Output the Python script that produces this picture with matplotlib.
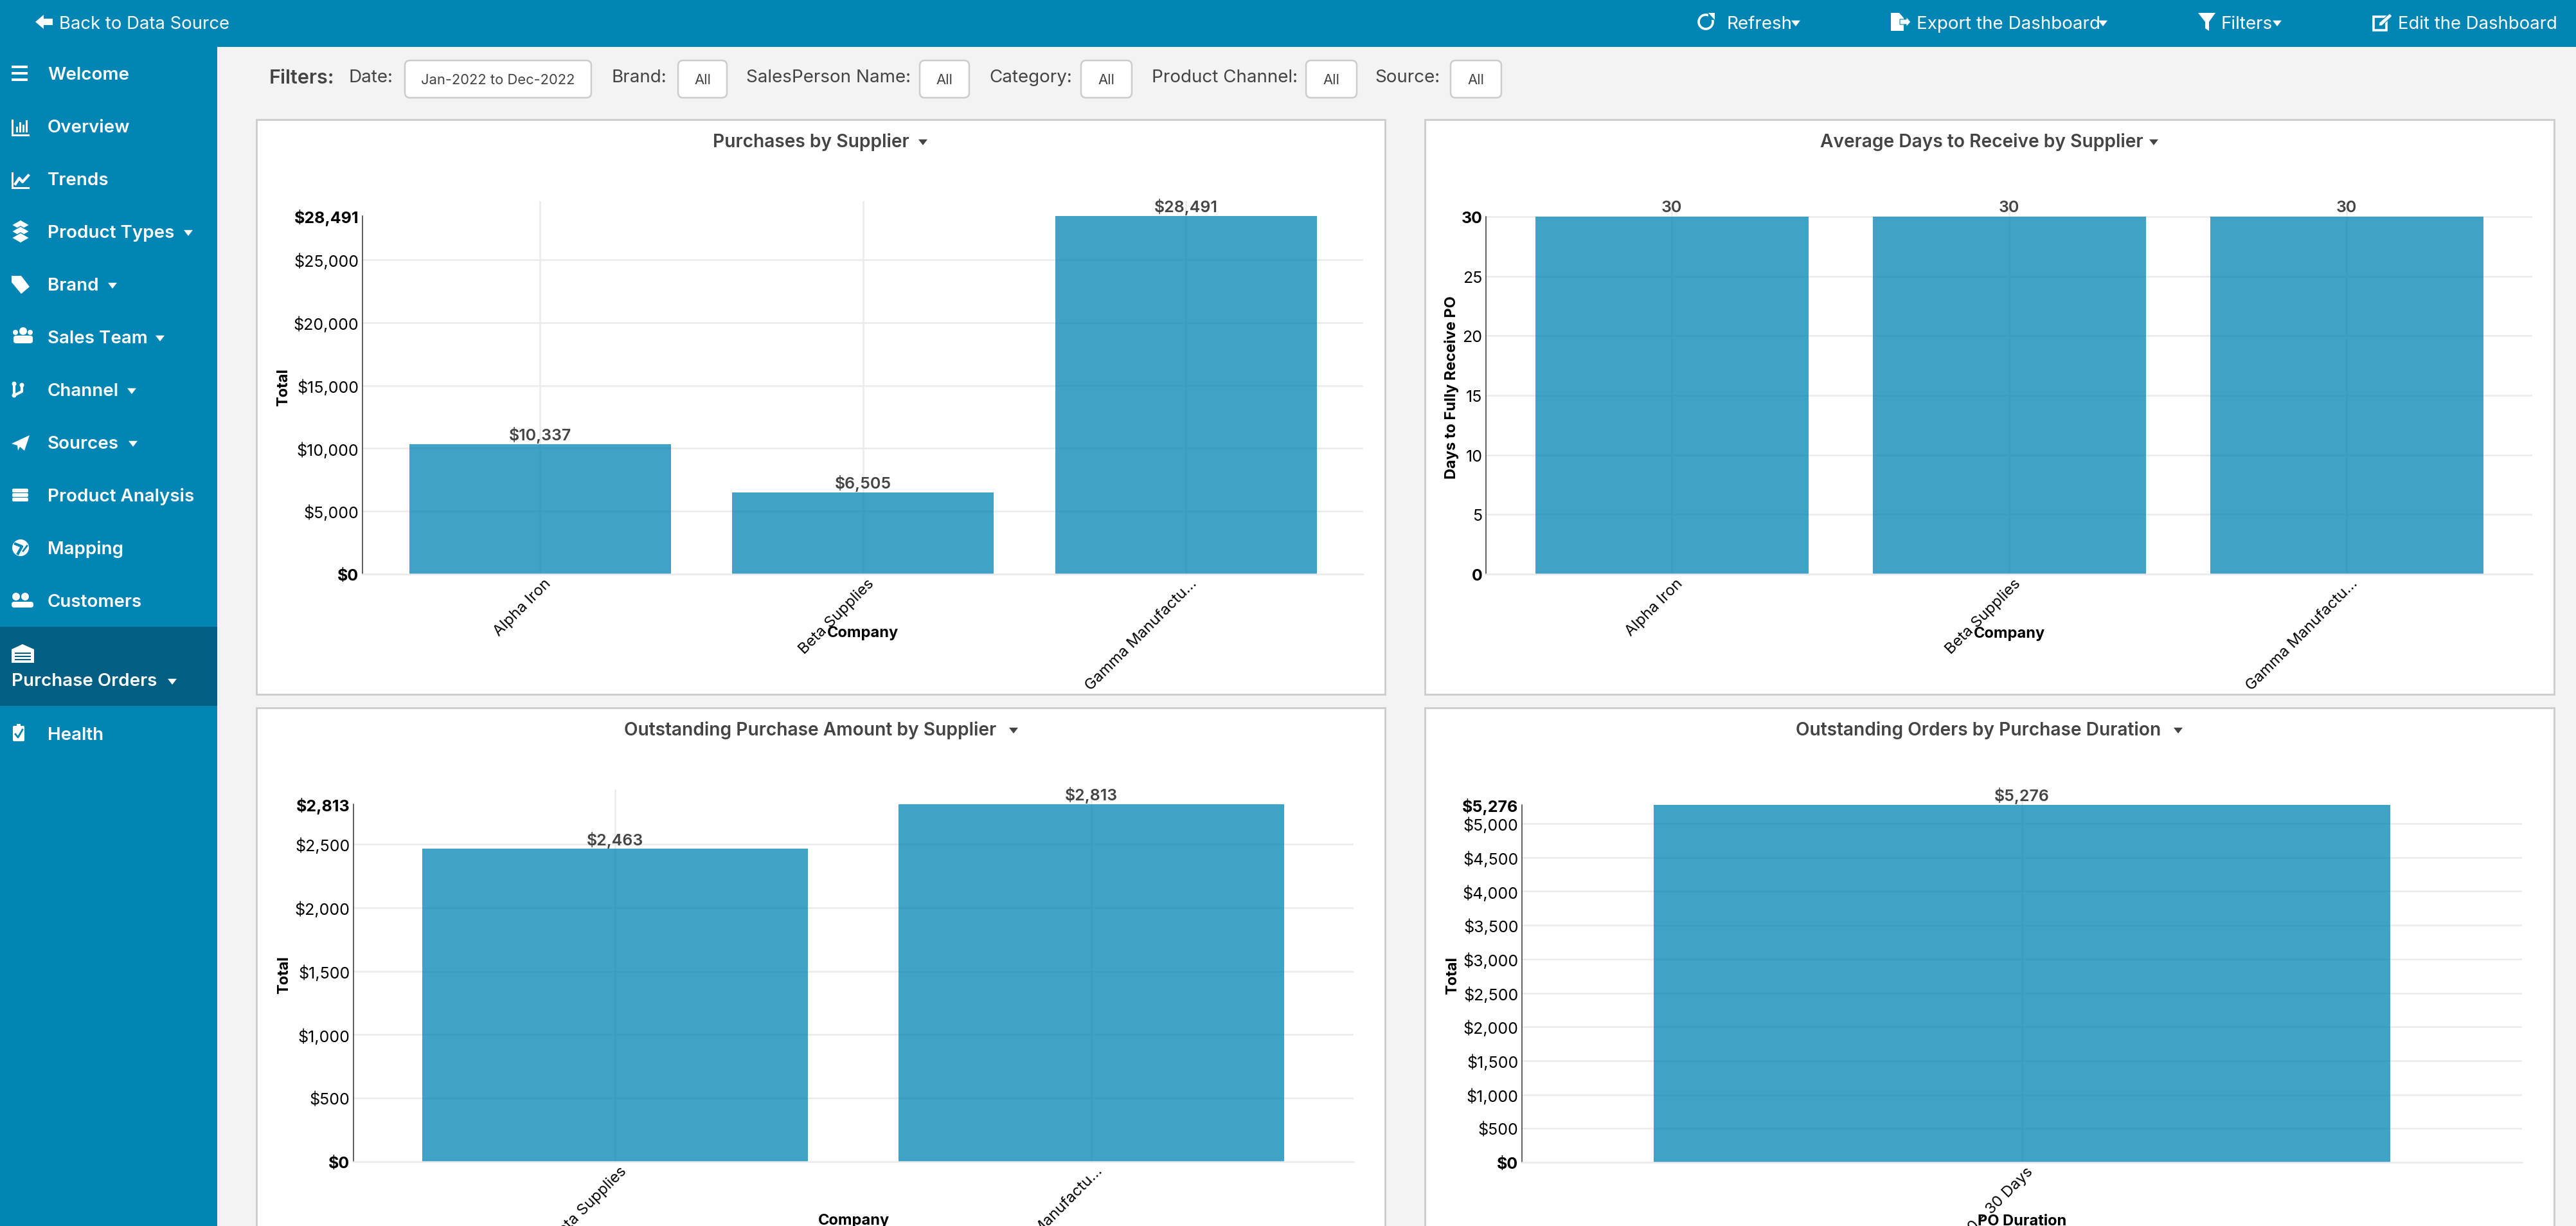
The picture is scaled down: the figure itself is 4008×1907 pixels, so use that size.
import matplotlib
matplotlib.use("Agg")
import matplotlib.pyplot as plt
from matplotlib.patches import Rectangle, FancyBboxPatch, Polygon, Circle
from matplotlib.transforms import ScaledTranslation

W, H, DPI = 4008, 1908, 100
plt.rcParams['font.family'] = ['Inter', 'DejaVu Sans']

BLUE = '#0085B5'; DARK = '#005F82'; BG = '#F3F3F3'; BORDER = '#CCCCCC'
GRID = '#EBEBEB'; BAR = '#0B88B8'; TXT = '#444444'

# ---------- data ----------
p1_cats = ['Alpha Iron', 'Beta Supplies', 'Gamma Manufactu...']
p1_vals = [10337, 6505, 28491]
p1_ticks = [0, 5000, 10000, 15000, 20000, 25000]
p2_cats = ['Alpha Iron', 'Beta Supplies', 'Gamma Manufactu...']
p2_vals = [30, 30, 30]
p2_ticks = [0, 5, 10, 15, 20, 25, 30]
p3_cats = ['Beta Supplies', 'Gamma Manufactu...']
p3_vals = [2463, 2813]
p3_ticks = [0, 500, 1000, 1500, 2000, 2500]
p4_cats = ['0 - 30 Days']
p4_vals = [5276]
p4_ticks = [0, 500, 1000, 1500, 2000, 2500, 3000, 3500, 4000, 4500, 5000]

nav_items = ['Welcome', 'Overview', 'Trends', 'Product Types', 'Brand', 'Sales Team',
             'Channel', 'Sources', 'Product Analysis', 'Mapping', 'Customers']
nav_y = [115, 197, 279, 361, 443, 525, 607, 689, 771, 853, 935]
nav_carets = {'Product Types', 'Brand', 'Sales Team', 'Channel', 'Sources'}

fig = plt.figure(figsize=(W / DPI, H / DPI), dpi=DPI, facecolor=BG)
bg = fig.add_axes([0, 0, 1, 1], zorder=0)
bg.set_xlim(0, W); bg.set_ylim(H, 0); bg.axis('off')


def rect(x0, y0, x1, y1, fc, ec='none', lw=0):
    bg.add_patch(Rectangle((x0, y0), x1 - x0, y1 - y0, fc=fc, ec=ec, lw=lw))


def T(x, y, s, size=17, weight='normal', color='white', ha='left', va='center', **kw):
    return bg.text(x, y, s, fontsize=size, fontweight=weight, color=color, ha=ha, va=va, **kw)


def caret(x, y, s=8, color='white'):
    bg.add_patch(Polygon([(x - s, y - s * .6), (x + s, y - s * .6), (x, y + s * .7)], fc=color, ec='none'))


# ---------- chrome ----------
rect(0, 0, W, 74, BLUE)
rect(0, 0, 338, H, BLUE)
rect(0, 976, 338, 1099, DARK)

# top bar
bg.add_patch(Polygon([(55, 35), (68, 24), (68, 30), (82, 30), (82, 40), (68, 40), (68, 46)], fc='white'))
T(92, 38, 'Back to Data Source', 19.8)
for x, s, cx in [(2687, 'Refresh', 2794), (2982, 'Export the Dashboard', 3272), (3456, 'Filters', 3543)]:
    T(x, 38, s, 20)
    caret(cx, 37, 7)
T(3731, 38, 'Edit the Dashboard', 19.8)
# top-bar icons
bg.add_patch(Circle((2654, 35), 11, fc='none', ec='white', lw=2.6))
bg.add_patch(Rectangle((2658, 20), 9, 12, fc=BLUE, ec='none'))
bg.add_patch(Polygon([(2658, 21), (2668, 21), (2668, 32)], fc='white'))
bg.add_patch(Polygon([(2942, 21), (2955, 21), (2962, 29), (2962, 49), (2942, 49)], fc='white'))
bg.add_patch(Polygon([(2956, 31), (2966, 31), (2966, 27), (2973, 35), (2966, 43), (2966, 39), (2956, 39)], fc='white', ec=BLUE, lw=.8))
bg.add_patch(Polygon([(3420, 21), (3447, 21), (3437, 35), (3437, 49), (3431, 45), (3431, 35)], fc='white'))
bg.add_patch(Rectangle((3693, 27), 20, 21, fc='none', ec='white', lw=2.6))
bg.add_patch(Polygon([(3702, 36), (3718, 22), (3722, 26), (3706, 41), (3701, 41)], fc='white', ec=BLUE, lw=.8))

# side navigation
for name, y in zip(nav_items, nav_y):
    T(74, y + 2, name, 20, 'semibold')
    if name in nav_carets:
        wid = {'Product Types': 293, 'Brand': 175, 'Sales Team': 249, 'Channel': 205, 'Sources': 207}[name]
        caret(wid, y + 2, 7)
T(18, 1060, 'Purchase Orders', 20, 'semibold')
caret(268, 1061, 7)
T(74, 1144, 'Health', 20, 'semibold')

# nav icons
for dy in (-10, 0, 10):
    rect(18, 115 + dy - 2, 43, 115 + dy + 2, 'white')
rect(18, 210, 46, 213, 'white'); rect(18, 187, 21, 213, 'white')
for x, t in zip((25, 30, 35, 40), (198, 191, 195, 188)):
    rect(x, t, x + 3, 207, 'white')
rect(18, 292, 46, 295, 'white'); rect(18, 269, 21, 295, 'white')
bg.plot([24, 30, 35, 44], [287, 278, 284, 274], color='white', lw=3)
for off in (-10, 0, 10):
    bg.add_patch(Polygon([(18, 361 + off), (32, 353 + off), (46, 361 + off), (32, 369 + off)], fc='white', ec=BLUE, lw=1))
bg.add_patch(Polygon([(18, 430), (33, 430), (46, 447), (33, 458), (18, 440)], fc='white'))
for cx, cy, r in [(24, 518, 4), (36, 516, 6), (47, 518, 4)]:
    bg.add_patch(Circle((cx, cy), r, fc='white'))
bg.add_patch(FancyBboxPatch((22, 524), 28, 10, boxstyle='round,pad=1,rounding_size=4', fc='white', ec='none'))
bg.plot([22, 22], [598, 616], color='white', lw=3); bg.plot([22, 34, 34], [616, 610, 600], color='white', lw=3)
for cx, cy in [(22, 598), (22, 616), (34, 600)]:
    bg.add_patch(Circle((cx, cy), 3.5, fc='white'))
bg.add_patch(Polygon([(18, 691), (46, 678), (38, 702), (31, 696), (28, 702), (27, 694)], fc='white'))
for yy in (764, 771, 778):
    bg.add_patch(FancyBboxPatch((19, yy - 3), 25, 6, boxstyle='round,pad=0,rounding_size=2', fc='white', ec='none'))
bg.add_patch(Circle((32, 853), 13, fc='white'))
bg.plot([24, 34, 28], [847, 851, 862], color=BLUE, lw=3)
bg.plot([36, 42], [858, 850], color=BLUE, lw=2)
for cx, cy, r in [(25, 929, 6), (39, 929, 6)]:
    bg.add_patch(Circle((cx, cy), r, fc='white'))
bg.add_patch(FancyBboxPatch((19, 938), 32, 7, boxstyle='round,pad=1,rounding_size=4', fc='white', ec='none'))
bg.add_patch(Polygon([(18, 1011), (35, 1003), (53, 1011), (53, 1032), (18, 1032)], fc='white'))
for yy in (1016, 1021, 1026):
    rect(23, yy, 48, yy + 2, DARK)
bg.add_patch(FancyBboxPatch((20, 1130), 18, 24, boxstyle='round,pad=0,rounding_size=2', fc='white', ec='none'))
rect(26, 1127, 32, 1133, 'white')
bg.plot([24, 28, 35], [1143, 1148, 1136], color=BLUE, lw=2)

# filter row
T(419, 122, 'Filters:', 22, 'semibold', TXT)
labels = [(543, 'Date:'), (952, 'Brand:'), (1161, 'SalesPerson Name:'), (1539, 'Category:'),
          (1792, 'Product Channel:'), (2139, 'Source:')]
for x, s in labels:
    T(x, 121, s, 20, 'normal', TXT)
boxes = [(630, 920, 'Jan-2022 to Dec-2022'), (1055, 1131, 'All'), (1431, 1508, 'All'),
         (1682, 1761, 'All'), (2032, 2111, 'All'), (2257, 2336, 'All')]
for x0, x1, s in boxes:
    bg.add_patch(FancyBboxPatch((x0 + 3, 98), x1 - x0 - 6, 52, boxstyle='round,pad=3,rounding_size=8',
                                fc='white', ec=BORDER, lw=1.8))
    T((x0 + x1) / 2, 125, s, 15.8, 'normal', TXT, ha='center')

# panels
panels = [(399, 2155, 187, 1081), (2217, 3974, 187, 1081), (399, 2155, 1102, 1960), (2217, 3974, 1102, 1960)]
for x0, x1, y0, y1 in panels:
    rect(x0, y0, x1, y1, 'white', BORDER, 2)
titles = [(1109, 221, 'Purchases by Supplier', 1436), (2832, 221, 'Average Days to Receive by Supplier', 3351),
          (971, 1136, 'Outstanding Purchase Amount by Supplier', 1577),
          (2794, 1136, 'Outstanding Orders by Purchase Duration', 3389)]
for x, y, s, cx in titles:
    T(x, y, s, 20.3, 'semibold', TXT)
    caret(cx, y + 1, 7, TXT)


# ---------- charts ----------
def chart(left, right, top, y0, cats, vals, ticks, centers, bar_w, ymax, fmt, ylabel, xlabel,
          ylab_x, ylab_y, xlab_y):
    extra = 23
    ax = fig.add_axes([left / W, (H - y0) / H, (right - left) / W, (y0 - top + extra) / H], zorder=1)
    ax.patch.set_alpha(0)
    step = centers[1] - centers[0] if len(centers) > 1 else bar_w / 0.8
    pos = list(range(len(cats)))
    ax.set_xlim((left - centers[0]) / step, (right - centers[0]) / step)
    ax.set_ylim(0, ymax * (y0 - top + extra) / (y0 - top))
    ax.set_axisbelow(True)
    ax.bar(pos, vals, width=bar_w / step, color=BAR, alpha=0.78, zorder=2)
    major = list(ticks)
    ax.set_yticks(major)
    ax.set_yticklabels([fmt(t) for t in major], fontsize=18, color='black')
    if ymax not in major:
        ax.set_yticks([ymax], [fmt(ymax)], minor=True, fontsize=18, fontweight='bold', color='black')
    ax.grid(True, which='major', color=GRID, lw=1.8)
    ax.tick_params(axis='y', which='both', length=0, pad=4)
    ax.tick_params(axis='x', length=0)
    ax.set_xticks(pos)
    ax.set_xticklabels(cats, fontsize=17.2, color='black', rotation=45, ha='right',
                       va='center', rotation_mode='anchor')
    off = ScaledTranslation(14 / DPI, -6 / DPI, fig.dpi_scale_trans)
    for lb in ax.get_xticklabels():
        lb.set_transform(lb.get_transform() + off)
    for lb in ax.get_yticklabels():
        if lb.get_text() == fmt(0) or lb.get_text() == fmt(ymax):
            lb.set_fontweight('bold')
    for s in ('top', 'right'):
        ax.spines[s].set_visible(False)
    ax.spines['left'].set_bounds(0, ymax)
    ax.spines['left'].set_color('#333333'); ax.spines['left'].set_linewidth(1.1)
    ax.spines['bottom'].set_color(GRID); ax.spines['bottom'].set_linewidth(1.8)
    for p, v in zip(pos, vals):
        ax.annotate(fmt(v), (p, v), xytext=(0, 10.5), textcoords='offset points', ha='center', va='center',
                    fontsize=18, fontweight='semibold', color=TXT, zorder=5, annotation_clip=False)
    T(ylab_x, ylab_y, ylabel, 17, 'bold', 'black', ha='center', rotation=90)
    ax.text(0.5, (y0 - xlab_y) / (y0 - top + extra), xlabel, transform=ax.transAxes, ha='center', va='center',
            fontsize=17, fontweight='bold', color='black', clip_on=False, zorder=6)
    return ax


usd = lambda v: f'${v:,}'
num = lambda v: f'{v}'
chart(564, 2121, 337, 894, p1_cats, p1_vals, p1_ticks, [840, 1342.5, 1845], 407, 28491, usd, 'Total', 'Company', 441, 603, 985)
chart(2312, 3940, 338, 894, p2_cats, p2_vals, p2_ticks, [2601, 3126, 3651], 425, 30, num, 'Days to Fully Receive PO', 'Company', 2259, 603, 986)
chart(550, 2106, 1252, 1808, p3_cats, p3_vals, p3_ticks, [957, 1698], 600, 2813, usd, 'Total', 'Company', 442, 1517, 1899)
chart(2368, 3924, 1253, 1809, p4_cats, p4_vals, p4_ticks, [3146], 1146, 5276, usd, 'Total', 'PO Duration', 2260, 1518, 1900)

fig.savefig('out.png', dpi=DPI, facecolor=BG)
